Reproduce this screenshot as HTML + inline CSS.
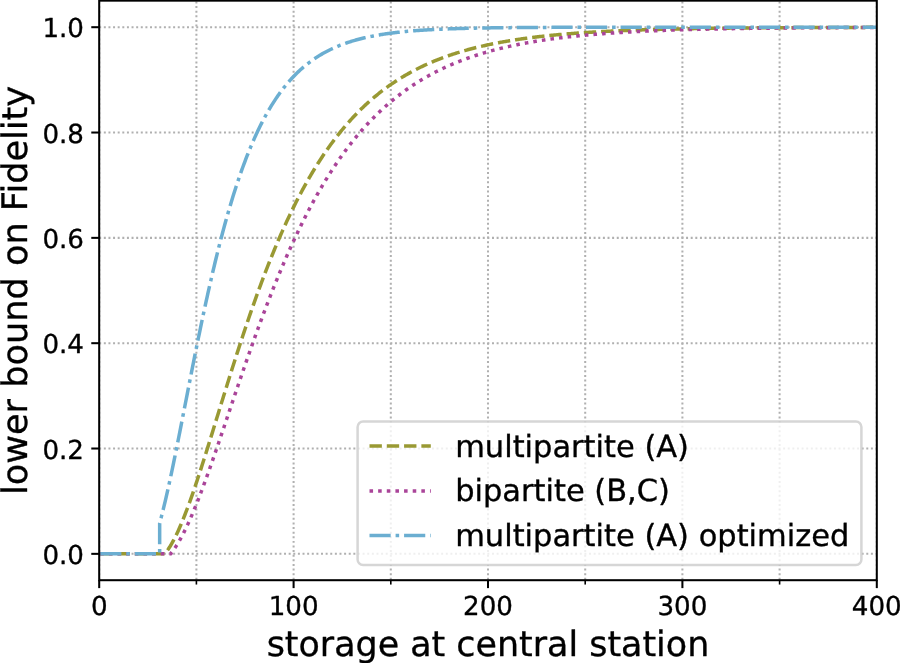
<!DOCTYPE html>
<html><head><meta charset="utf-8"><title>lower bound on Fidelity</title>
<style>html,body{margin:0;padding:0;background:#fff}svg{display:block}text{text-rendering:geometricPrecision;font-family:"DejaVu Sans","Liberation Sans",sans-serif;fill:#000;stroke:#000;stroke-width:0.35px;stroke-linejoin:round}</style></head><body>
<svg width="900" height="663" viewBox="0 0 900 663">
<rect width="900" height="663" fill="#fff"/>
<clipPath id="ax"><rect x="99.2" y="0.65" width="777.60" height="579.55"/></clipPath>
<g clip-path="url(#ax)" stroke="#b0b0b0" stroke-width="2.04" stroke-dasharray="1.99 2.62" fill="none">
<line x1="99.20" y1="579.75" x2="99.20" y2="0.65"/>
<line x1="293.60" y1="579.75" x2="293.60" y2="0.65"/>
<line x1="488.00" y1="579.75" x2="488.00" y2="0.65"/>
<line x1="682.40" y1="579.75" x2="682.40" y2="0.65"/>
<line x1="876.80" y1="579.75" x2="876.80" y2="0.65"/>
<line x1="196.40" y1="579.75" x2="196.40" y2="0.65"/>
<line x1="390.80" y1="579.75" x2="390.80" y2="0.65"/>
<line x1="585.20" y1="579.75" x2="585.20" y2="0.65"/>
<line x1="779.60" y1="579.75" x2="779.60" y2="0.65"/>
<line x1="99.2" y1="553.85" x2="876.8" y2="553.85" stroke-dasharray="1.99 2.631"/>
<line x1="99.2" y1="448.52" x2="876.8" y2="448.52" stroke-dasharray="1.99 2.631"/>
<line x1="99.2" y1="343.19" x2="876.8" y2="343.19" stroke-dasharray="1.99 2.631"/>
<line x1="99.2" y1="237.86" x2="876.8" y2="237.86" stroke-dasharray="1.99 2.631"/>
<line x1="99.2" y1="132.53" x2="876.8" y2="132.53" stroke-dasharray="1.99 2.631"/>
<line x1="99.2" y1="27.20" x2="876.8" y2="27.20" stroke-dasharray="1.99 2.631"/>
</g>
<g clip-path="url(#ax)" fill="none" stroke-width="3.50" stroke-linejoin="round" stroke-dashoffset="-1">
<polyline stroke="#999933" stroke-dasharray="12.38 4.92" points="99.20,553.85 164.71,553.85 165.30,553.17 166.27,551.96 167.24,550.66 168.21,549.27 169.18,547.81 170.16,546.27 171.13,544.65 172.10,542.96 173.07,541.20 174.04,539.37 175.02,537.47 175.99,535.51 176.96,533.48 177.93,531.39 178.90,529.25 179.88,527.04 180.85,524.78 181.82,522.47 182.79,520.11 183.76,517.70 184.74,515.24 185.71,512.73 186.68,510.18 187.65,507.59 188.62,504.96 189.60,502.29 190.57,499.58 191.54,496.84 192.51,494.07 193.48,491.26 194.46,488.42 195.43,485.56 196.40,482.67 197.37,479.75 198.34,476.81 199.32,473.85 200.29,470.86 201.26,467.86 202.23,464.83 203.20,461.79 204.18,458.74 205.15,455.67 206.12,452.58 207.09,449.49 208.06,446.38 209.04,443.26 210.01,440.14 210.98,437.01 211.95,433.87 212.92,430.73 213.90,427.58 214.87,424.42 215.84,421.27 216.81,418.11 217.78,414.96 218.76,411.80 219.73,408.65 220.70,405.49 221.67,402.34 222.64,399.20 223.62,396.05 224.59,392.92 225.56,389.78 226.53,386.66 227.50,383.54 228.48,380.43 229.45,377.32 230.42,374.23 231.39,371.15 232.36,368.07 233.34,365.01 234.31,361.95 235.28,358.91 236.25,355.88 237.22,352.86 238.20,349.86 239.17,346.87 240.14,343.89 241.11,340.92 242.08,337.97 243.06,335.04 244.03,332.12 245.00,329.21 245.97,326.32 246.94,323.45 247.92,320.59 248.89,317.75 249.86,314.93 250.83,312.12 251.80,309.33 252.78,306.56 253.75,303.81 254.72,301.07 255.69,298.35 256.66,295.65 257.64,292.97 258.61,290.30 259.58,287.66 260.55,285.03 261.52,282.42 262.50,279.83 263.47,277.26 264.44,274.71 265.41,272.18 266.38,269.67 267.36,267.17 268.33,264.70 269.30,262.24 270.27,259.81 271.24,257.39 272.22,254.99 273.19,252.62 274.16,250.26 275.13,247.92 276.10,245.60 277.08,243.30 278.05,241.02 279.02,238.76 279.99,236.52 280.96,234.29 281.94,232.09 282.91,229.91 283.88,227.74 284.85,225.60 285.82,223.47 286.80,221.36 287.77,219.27 288.74,217.20 289.71,215.15 290.68,213.12 291.66,211.11 292.63,209.12 293.60,207.14 294.57,205.18 295.54,203.24 296.52,201.32 297.49,199.42 298.46,197.54 299.43,195.67 300.40,193.82 301.38,191.99 302.35,190.18 303.32,188.38 304.29,186.61 305.26,184.85 306.24,183.10 307.21,181.38 308.18,179.67 309.15,177.98 310.12,176.30 311.10,174.65 312.07,173.00 313.04,171.38 314.01,169.77 314.98,168.18 315.96,166.60 316.93,165.05 317.90,163.50 318.87,161.97 319.84,160.46 320.82,158.97 321.79,157.48 322.76,156.02 323.73,154.57 324.70,153.13 325.68,151.71 326.65,150.31 327.62,148.92 328.59,147.54 329.56,146.18 330.54,144.83 331.51,143.50 332.48,142.18 333.45,140.88 334.42,139.58 335.40,138.31 336.37,137.04 337.34,135.79 338.31,134.56 339.28,133.33 340.26,132.12 341.23,130.93 342.20,129.74 343.17,128.57 344.14,127.41 345.12,126.27 346.09,125.13 347.06,124.01 348.03,122.90 349.00,121.81 349.98,120.72 350.95,119.65 351.92,118.59 352.89,117.54 353.86,116.50 354.84,115.47 355.81,114.46 356.78,113.45 357.75,112.46 358.72,111.48 359.70,110.51 360.67,109.55 361.64,108.60 362.61,107.66 363.58,106.73 364.56,105.81 365.53,104.90 366.50,104.01 367.47,103.12 368.44,102.24 369.42,101.37 370.39,100.51 371.36,99.67 372.33,98.83 373.30,98.00 374.28,97.18 375.25,96.36 376.22,95.56 377.19,94.77 378.16,93.99 379.14,93.21 380.11,92.44 381.08,91.69 382.05,90.94 383.02,90.20 384.00,89.46 384.97,88.74 385.94,88.02 386.91,87.32 387.88,86.62 388.86,85.93 389.83,85.24 390.80,84.57 391.77,83.90 392.74,83.24 393.72,82.58 394.69,81.94 395.66,81.30 396.63,80.67 397.60,80.05 398.58,79.43 399.55,78.82 400.52,78.22 401.49,77.62 402.46,77.03 403.44,76.45 404.41,75.88 405.38,75.31 406.35,74.74 407.32,74.19 408.30,73.64 409.27,73.10 410.24,72.56 411.21,72.03 412.18,71.50 413.16,70.99 414.13,70.47 415.10,69.97 416.07,69.47 417.04,68.97 418.02,68.48 418.99,68.00 419.96,67.52 420.93,67.05 421.90,66.58 422.88,66.12 423.85,65.66 424.82,65.21 425.79,64.77 426.76,64.33 427.74,63.89 428.71,63.46 429.68,63.04 430.65,62.62 431.62,62.20 432.60,61.79 433.57,61.38 434.54,60.98 435.51,60.59 436.48,60.19 437.46,59.81 438.43,59.42 439.40,59.05 440.37,58.67 441.34,58.30 442.32,57.94 443.29,57.58 444.26,57.22 445.23,56.87 446.20,56.52 447.18,56.17 448.15,55.83 449.12,55.50 450.09,55.16 451.06,54.84 452.04,54.51 453.01,54.19 453.98,53.87 454.95,53.56 455.92,53.25 456.90,52.94 457.87,52.64 458.84,52.34 459.81,52.04 460.78,51.75 461.76,51.46 462.73,51.18 463.70,50.90 464.67,50.62 465.64,50.34 466.62,50.07 467.59,49.80 468.56,49.53 469.53,49.27 470.50,49.01 471.48,48.75 472.45,48.50 473.42,48.25 474.39,48.00 475.36,47.76 476.34,47.52 477.31,47.28 478.28,47.04 479.25,46.81 480.22,46.58 481.20,46.35 482.17,46.12 483.14,45.90 484.11,45.68 485.08,45.46 486.06,45.25 487.03,45.03 488.00,44.82 488.97,44.62 489.94,44.41 490.92,44.21 491.89,44.01 492.86,43.81 493.83,43.61 494.80,43.42 495.78,43.23 496.75,43.04 497.72,42.85 498.69,42.67 499.66,42.49 500.64,42.31 501.61,42.13 502.58,41.95 503.55,41.78 504.52,41.61 505.50,41.44 506.47,41.27 507.44,41.10 508.41,40.94 509.38,40.78 510.36,40.62 511.33,40.46 512.30,40.30 513.27,40.15 514.24,39.99 515.22,39.84 516.19,39.69 517.16,39.55 518.13,39.40 519.10,39.26 520.08,39.12 521.05,38.98 522.02,38.84 522.99,38.70 523.96,38.56 524.94,38.43 525.91,38.30 526.88,38.17 527.85,38.04 528.82,37.91 529.80,37.78 530.77,37.66 531.74,37.53 532.71,37.41 533.68,37.29 534.66,37.17 535.63,37.06 536.60,36.94 537.57,36.82 538.54,36.71 539.52,36.60 540.49,36.49 541.46,36.38 542.43,36.27 543.40,36.16 544.38,36.06 545.35,35.95 546.32,35.85 547.29,35.75 548.26,35.65 549.24,35.55 550.21,35.45 551.18,35.35 552.15,35.25 553.12,35.16 554.10,35.07 555.07,34.97 556.04,34.88 557.01,34.79 557.98,34.70 558.96,34.61 559.93,34.52 560.90,34.44 561.87,34.35 562.84,34.27 563.82,34.19 564.79,34.10 565.76,34.02 566.73,33.94 567.70,33.86 568.68,33.78 569.65,33.70 570.62,33.63 571.59,33.55 572.56,33.48 573.54,33.40 574.51,33.33 575.48,33.26 576.45,33.19 577.42,33.12 578.40,33.05 579.37,32.98 580.34,32.91 581.31,32.84 582.28,32.77 583.26,32.71 584.23,32.64 585.20,32.58 586.17,32.52 587.14,32.45 588.12,32.39 589.09,32.33 590.06,32.27 591.03,32.21 592.00,32.15 592.98,32.09 593.95,32.03 594.92,31.98 595.89,31.92 596.86,31.86 597.84,31.81 598.81,31.76 599.78,31.70 600.75,31.65 601.72,31.60 602.70,31.54 603.67,31.49 604.64,31.44 605.61,31.39 606.58,31.34 607.56,31.29 608.53,31.25 609.50,31.20 610.47,31.15 611.44,31.10 612.42,31.06 613.39,31.01 614.36,30.97 615.33,30.92 616.30,30.88 617.28,30.84 618.25,30.79 619.22,30.75 620.19,30.71 621.16,30.67 622.14,30.63 623.11,30.59 624.08,30.55 625.05,30.51 626.02,30.47 627.00,30.43 627.97,30.39 628.94,30.35 629.91,30.31 630.88,30.28 631.86,30.24 632.83,30.21 633.80,30.17 634.77,30.14 635.74,30.10 636.72,30.07 637.69,30.03 638.66,30.00 639.63,29.97 640.60,29.93 641.58,29.90 642.55,29.87 643.52,29.84 644.49,29.81 645.46,29.78 646.44,29.75 647.41,29.72 648.38,29.69 649.35,29.66 650.32,29.63 651.30,29.60 652.27,29.57 653.24,29.54 654.21,29.51 655.18,29.49 656.16,29.46 657.13,29.43 658.10,29.41 659.07,29.38 660.04,29.36 661.02,29.33 661.99,29.30 662.96,29.28 663.93,29.26 664.90,29.23 665.88,29.21 666.85,29.18 667.82,29.16 668.79,29.14 669.76,29.11 670.74,29.09 671.71,29.07 672.68,29.05 673.65,29.03 674.62,29.00 675.60,28.98 676.57,28.96 677.54,28.94 678.51,28.92 679.48,28.90 680.46,28.88 681.43,28.86 682.40,28.84 683.37,28.82 684.34,28.80 685.32,28.78 686.29,28.76 687.26,28.75 688.23,28.73 689.20,28.71 690.18,28.69 691.15,28.67 692.12,28.66 693.09,28.64 694.06,28.62 695.04,28.61 696.01,28.59 696.98,28.57 697.95,28.56 698.92,28.54 699.90,28.52 700.87,28.51 701.84,28.49 702.81,28.48 703.78,28.46 704.76,28.45 705.73,28.43 706.70,28.42 707.67,28.40 708.64,28.39 709.62,28.38 710.59,28.36 711.56,28.35 712.53,28.33 713.50,28.32 714.48,28.31 715.45,28.30 716.42,28.28 717.39,28.27 718.36,28.26 719.34,28.24 720.31,28.23 721.28,28.22 722.25,28.21 723.22,28.20 724.20,28.18 725.17,28.17 726.14,28.16 727.11,28.15 728.08,28.14 729.06,28.13 730.03,28.12 731.00,28.11 731.97,28.09 732.94,28.08 733.92,28.07 734.89,28.06 735.86,28.05 736.83,28.04 737.80,28.03 738.78,28.02 739.75,28.01 740.72,28.00 741.69,27.99 742.66,27.99 743.64,27.98 744.61,27.97 745.58,27.96 746.55,27.95 747.52,27.94 748.50,27.93 749.47,27.92 750.44,27.91 751.41,27.91 752.38,27.90 753.36,27.89 754.33,27.88 755.30,27.87 756.27,27.86 757.24,27.86 758.22,27.85 759.19,27.84 760.16,27.83 761.13,27.83 762.10,27.82 763.08,27.81 764.05,27.80 765.02,27.80 765.99,27.79 766.96,27.78 767.94,27.78 768.91,27.77 769.88,27.76 770.85,27.76 771.82,27.75 772.80,27.74 773.77,27.74 774.74,27.73 775.71,27.72 776.68,27.72 777.66,27.71 778.63,27.71 779.60,27.70 780.57,27.69 781.54,27.69 782.52,27.68 783.49,27.68 784.46,27.67 785.43,27.67 786.40,27.66 787.38,27.65 788.35,27.65 789.32,27.64 790.29,27.64 791.26,27.63 792.24,27.63 793.21,27.62 794.18,27.62 795.15,27.61 796.12,27.61 797.10,27.60 798.07,27.60 799.04,27.59 800.01,27.59 800.98,27.58 801.96,27.58 802.93,27.58 803.90,27.57 804.87,27.57 805.84,27.56 806.82,27.56 807.79,27.55 808.76,27.55 809.73,27.55 810.70,27.54 811.68,27.54 812.65,27.53 813.62,27.53 814.59,27.53 815.56,27.52 816.54,27.52 817.51,27.51 818.48,27.51 819.45,27.51 820.42,27.50 821.40,27.50 822.37,27.50 823.34,27.49 824.31,27.49 825.28,27.49 826.26,27.48 827.23,27.48 828.20,27.48 829.17,27.47 830.14,27.47 831.12,27.47 832.09,27.46 833.06,27.46 834.03,27.46 835.00,27.45 835.98,27.45 836.95,27.45 837.92,27.45 838.89,27.44 839.86,27.44 840.84,27.44 841.81,27.43 842.78,27.43 843.75,27.43 844.72,27.43 845.70,27.42 846.67,27.42 847.64,27.42 848.61,27.42 849.58,27.41 850.56,27.41 851.53,27.41 852.50,27.41 853.47,27.40 854.44,27.40 855.42,27.40 856.39,27.40 857.36,27.39 858.33,27.39 859.30,27.39 860.28,27.39 861.25,27.38 862.22,27.38 863.19,27.38 864.16,27.38 865.14,27.38 866.11,27.37 867.08,27.37 868.05,27.37 869.02,27.37 870.00,27.37 870.97,27.36 871.94,27.36 872.91,27.36 873.88,27.36 874.86,27.36 875.83,27.35 876.80,27.35"/>
<polyline stroke="#AA4499" stroke-dasharray="3.56 5.09" points="99.20,553.85 170.93,553.85 171.13,553.01 172.10,551.81 173.07,550.54 174.04,549.20 175.02,547.81 175.99,546.35 176.96,544.83 177.93,543.26 178.90,541.62 179.88,539.94 180.85,538.20 181.82,536.40 182.79,534.56 183.76,532.66 184.74,530.72 185.71,528.73 186.68,526.70 187.65,524.62 188.62,522.50 189.60,520.34 190.57,518.14 191.54,515.90 192.51,513.63 193.48,511.32 194.46,508.97 195.43,506.59 196.40,504.18 197.37,501.74 198.34,499.27 199.32,496.76 200.29,494.24 201.26,491.68 202.23,489.11 203.20,486.50 204.18,483.88 205.15,481.23 206.12,478.57 207.09,475.88 208.06,473.17 209.04,470.45 210.01,467.71 210.98,464.96 211.95,462.19 212.92,459.41 213.90,456.62 214.87,453.81 215.84,450.99 216.81,448.17 217.78,445.33 218.76,442.49 219.73,439.64 220.70,436.78 221.67,433.92 222.64,431.05 223.62,428.18 224.59,425.30 225.56,422.42 226.53,419.54 227.50,416.66 228.48,413.78 229.45,410.89 230.42,408.01 231.39,405.13 232.36,402.25 233.34,399.37 234.31,396.50 235.28,393.63 236.25,390.76 237.22,387.90 238.20,385.04 239.17,382.19 240.14,379.34 241.11,376.50 242.08,373.67 243.06,370.85 244.03,368.03 245.00,365.22 245.97,362.42 246.94,359.63 247.92,356.84 248.89,354.07 249.86,351.31 250.83,348.55 251.80,345.81 252.78,343.08 253.75,340.36 254.72,337.65 255.69,334.96 256.66,332.27 257.64,329.60 258.61,326.94 259.58,324.29 260.55,321.66 261.52,319.04 262.50,316.43 263.47,313.84 264.44,311.26 265.41,308.69 266.38,306.14 267.36,303.61 268.33,301.08 269.30,298.58 270.27,296.08 271.24,293.60 272.22,291.14 273.19,288.69 274.16,286.26 275.13,283.85 276.10,281.44 277.08,279.06 278.05,276.69 279.02,274.33 279.99,271.99 280.96,269.67 281.94,267.37 282.91,265.07 283.88,262.80 284.85,260.54 285.82,258.30 286.80,256.07 287.77,253.86 288.74,251.67 289.71,249.49 290.68,247.33 291.66,245.18 292.63,243.05 293.60,240.94 294.57,238.84 295.54,236.76 296.52,234.70 297.49,232.65 298.46,230.62 299.43,228.60 300.40,226.60 301.38,224.62 302.35,222.65 303.32,220.70 304.29,218.77 305.26,216.85 306.24,214.94 307.21,213.05 308.18,211.18 309.15,209.33 310.12,207.49 311.10,205.66 312.07,203.85 313.04,202.06 314.01,200.28 314.98,198.52 315.96,196.77 316.93,195.04 317.90,193.32 318.87,191.62 319.84,189.93 320.82,188.26 321.79,186.61 322.76,184.96 323.73,183.34 324.70,181.73 325.68,180.13 326.65,178.55 327.62,176.98 328.59,175.42 329.56,173.88 330.54,172.36 331.51,170.85 332.48,169.35 333.45,167.86 334.42,166.39 335.40,164.94 336.37,163.50 337.34,162.07 338.31,160.65 339.28,159.25 340.26,157.86 341.23,156.49 342.20,155.13 343.17,153.78 344.14,152.44 345.12,151.12 346.09,149.81 347.06,148.51 348.03,147.23 349.00,145.95 349.98,144.69 350.95,143.45 351.92,142.21 352.89,140.99 353.86,139.78 354.84,138.58 355.81,137.39 356.78,136.21 357.75,135.05 358.72,133.90 359.70,132.76 360.67,131.63 361.64,130.51 362.61,129.40 363.58,128.31 364.56,127.22 365.53,126.15 366.50,125.08 367.47,124.03 368.44,122.99 369.42,121.96 370.39,120.94 371.36,119.93 372.33,118.93 373.30,117.94 374.28,116.96 375.25,115.99 376.22,115.03 377.19,114.08 378.16,113.14 379.14,112.21 380.11,111.29 381.08,110.37 382.05,109.47 383.02,108.58 384.00,107.70 384.97,106.82 385.94,105.96 386.91,105.10 387.88,104.25 388.86,103.41 389.83,102.58 390.80,101.76 391.77,100.95 392.74,100.15 393.72,99.35 394.69,98.56 395.66,97.78 396.63,97.01 397.60,96.25 398.58,95.50 399.55,94.75 400.52,94.01 401.49,93.28 402.46,92.56 403.44,91.84 404.41,91.13 405.38,90.43 406.35,89.74 407.32,89.05 408.30,88.37 409.27,87.70 410.24,87.04 411.21,86.38 412.18,85.73 413.16,85.09 414.13,84.45 415.10,83.82 416.07,83.20 417.04,82.58 418.02,81.98 418.99,81.37 419.96,80.78 420.93,80.19 421.90,79.60 422.88,79.02 423.85,78.45 424.82,77.89 425.79,77.33 426.76,76.78 427.74,76.23 428.71,75.69 429.68,75.15 430.65,74.62 431.62,74.10 432.60,73.58 433.57,73.07 434.54,72.56 435.51,72.06 436.48,71.56 437.46,71.07 438.43,70.59 439.40,70.11 440.37,69.63 441.34,69.16 442.32,68.70 443.29,68.24 444.26,67.78 445.23,67.33 446.20,66.89 447.18,66.45 448.15,66.02 449.12,65.58 450.09,65.16 451.06,64.74 452.04,64.32 453.01,63.91 453.98,63.50 454.95,63.10 455.92,62.70 456.90,62.31 457.87,61.92 458.84,61.53 459.81,61.15 460.78,60.77 461.76,60.40 462.73,60.03 463.70,59.67 464.67,59.31 465.64,58.95 466.62,58.60 467.59,58.25 468.56,57.90 469.53,57.56 470.50,57.22 471.48,56.89 472.45,56.56 473.42,56.23 474.39,55.91 475.36,55.59 476.34,55.27 477.31,54.96 478.28,54.65 479.25,54.34 480.22,54.04 481.20,53.74 482.17,53.45 483.14,53.15 484.11,52.87 485.08,52.58 486.06,52.30 487.03,52.02 488.00,51.74 488.97,51.47 489.94,51.20 490.92,50.93 491.89,50.66 492.86,50.40 493.83,50.14 494.80,49.89 495.78,49.63 496.75,49.38 497.72,49.14 498.69,48.89 499.66,48.65 500.64,48.41 501.61,48.17 502.58,47.94 503.55,47.71 504.52,47.48 505.50,47.25 506.47,47.03 507.44,46.81 508.41,46.59 509.38,46.37 510.36,46.16 511.33,45.94 512.30,45.74 513.27,45.53 514.24,45.32 515.22,45.12 516.19,44.92 517.16,44.72 518.13,44.53 519.10,44.33 520.08,44.14 521.05,43.95 522.02,43.76 522.99,43.58 523.96,43.40 524.94,43.22 525.91,43.04 526.88,42.86 527.85,42.68 528.82,42.51 529.80,42.34 530.77,42.17 531.74,42.00 532.71,41.84 533.68,41.67 534.66,41.51 535.63,41.35 536.60,41.19 537.57,41.04 538.54,40.88 539.52,40.73 540.49,40.58 541.46,40.43 542.43,40.28 543.40,40.13 544.38,39.99 545.35,39.85 546.32,39.70 547.29,39.56 548.26,39.43 549.24,39.29 550.21,39.15 551.18,39.02 552.15,38.89 553.12,38.76 554.10,38.63 555.07,38.50 556.04,38.37 557.01,38.25 557.98,38.12 558.96,38.00 559.93,37.88 560.90,37.76 561.87,37.64 562.84,37.53 563.82,37.41 564.79,37.30 565.76,37.18 566.73,37.07 567.70,36.96 568.68,36.85 569.65,36.74 570.62,36.64 571.59,36.53 572.56,36.42 573.54,36.32 574.51,36.22 575.48,36.12 576.45,36.02 577.42,35.92 578.40,35.82 579.37,35.73 580.34,35.63 581.31,35.54 582.28,35.44 583.26,35.35 584.23,35.26 585.20,35.17 586.17,35.08 587.14,34.99 588.12,34.90 589.09,34.82 590.06,34.73 591.03,34.65 592.00,34.56 592.98,34.48 593.95,34.40 594.92,34.32 595.89,34.24 596.86,34.16 597.84,34.08 598.81,34.00 599.78,33.93 600.75,33.85 601.72,33.78 602.70,33.70 603.67,33.63 604.64,33.56 605.61,33.49 606.58,33.42 607.56,33.35 608.53,33.28 609.50,33.21 610.47,33.14 611.44,33.08 612.42,33.01 613.39,32.95 614.36,32.88 615.33,32.82 616.30,32.75 617.28,32.69 618.25,32.63 619.22,32.57 620.19,32.51 621.16,32.45 622.14,32.39 623.11,32.33 624.08,32.28 625.05,32.22 626.02,32.16 627.00,32.11 627.97,32.05 628.94,32.00 629.91,31.94 630.88,31.89 631.86,31.84 632.83,31.79 633.80,31.73 634.77,31.68 635.74,31.63 636.72,31.58 637.69,31.53 638.66,31.49 639.63,31.44 640.60,31.39 641.58,31.34 642.55,31.30 643.52,31.25 644.49,31.20 645.46,31.16 646.44,31.12 647.41,31.07 648.38,31.03 649.35,30.98 650.32,30.94 651.30,30.90 652.27,30.86 653.24,30.82 654.21,30.78 655.18,30.74 656.16,30.70 657.13,30.66 658.10,30.62 659.07,30.58 660.04,30.54 661.02,30.51 661.99,30.47 662.96,30.43 663.93,30.40 664.90,30.36 665.88,30.32 666.85,30.29 667.82,30.25 668.79,30.22 669.76,30.19 670.74,30.15 671.71,30.12 672.68,30.09 673.65,30.05 674.62,30.02 675.60,29.99 676.57,29.96 677.54,29.93 678.51,29.90 679.48,29.87 680.46,29.84 681.43,29.81 682.40,29.78 683.37,29.75 684.34,29.72 685.32,29.69 686.29,29.67 687.26,29.64 688.23,29.61 689.20,29.58 690.18,29.56 691.15,29.53 692.12,29.50 693.09,29.48 694.06,29.45 695.04,29.43 696.01,29.40 696.98,29.38 697.95,29.35 698.92,29.33 699.90,29.30 700.87,29.28 701.84,29.26 702.81,29.23 703.78,29.21 704.76,29.19 705.73,29.17 706.70,29.14 707.67,29.12 708.64,29.10 709.62,29.08 710.59,29.06 711.56,29.04 712.53,29.02 713.50,29.00 714.48,28.98 715.45,28.96 716.42,28.94 717.39,28.92 718.36,28.90 719.34,28.88 720.31,28.86 721.28,28.84 722.25,28.82 723.22,28.81 724.20,28.79 725.17,28.77 726.14,28.75 727.11,28.73 728.08,28.72 729.06,28.70 730.03,28.68 731.00,28.67 731.97,28.65 732.94,28.63 733.92,28.62 734.89,28.60 735.86,28.59 736.83,28.57 737.80,28.56 738.78,28.54 739.75,28.53 740.72,28.51 741.69,28.50 742.66,28.48 743.64,28.47 744.61,28.45 745.58,28.44 746.55,28.42 747.52,28.41 748.50,28.40 749.47,28.38 750.44,28.37 751.41,28.36 752.38,28.34 753.36,28.33 754.33,28.32 755.30,28.31 756.27,28.29 757.24,28.28 758.22,28.27 759.19,28.26 760.16,28.25 761.13,28.23 762.10,28.22 763.08,28.21 764.05,28.20 765.02,28.19 765.99,28.18 766.96,28.17 767.94,28.16 768.91,28.14 769.88,28.13 770.85,28.12 771.82,28.11 772.80,28.10 773.77,28.09 774.74,28.08 775.71,28.07 776.68,28.06 777.66,28.05 778.63,28.04 779.60,28.03 780.57,28.02 781.54,28.02 782.52,28.01 783.49,28.00 784.46,27.99 785.43,27.98 786.40,27.97 787.38,27.96 788.35,27.95 789.32,27.95 790.29,27.94 791.26,27.93 792.24,27.92 793.21,27.91 794.18,27.90 795.15,27.90 796.12,27.89 797.10,27.88 798.07,27.87 799.04,27.87 800.01,27.86 800.98,27.85 801.96,27.84 802.93,27.84 803.90,27.83 804.87,27.82 805.84,27.81 806.82,27.81 807.79,27.80 808.76,27.79 809.73,27.79 810.70,27.78 811.68,27.77 812.65,27.77 813.62,27.76 814.59,27.76 815.56,27.75 816.54,27.74 817.51,27.74 818.48,27.73 819.45,27.73 820.42,27.72 821.40,27.71 822.37,27.71 823.34,27.70 824.31,27.70 825.28,27.69 826.26,27.69 827.23,27.68 828.20,27.67 829.17,27.67 830.14,27.66 831.12,27.66 832.09,27.65 833.06,27.65 834.03,27.64 835.00,27.64 835.98,27.63 836.95,27.63 837.92,27.62 838.89,27.62 839.86,27.61 840.84,27.61 841.81,27.60 842.78,27.60 843.75,27.60 844.72,27.59 845.70,27.59 846.67,27.58 847.64,27.58 848.61,27.57 849.58,27.57 850.56,27.57 851.53,27.56 852.50,27.56 853.47,27.55 854.44,27.55 855.42,27.55 856.39,27.54 857.36,27.54 858.33,27.53 859.30,27.53 860.28,27.53 861.25,27.52 862.22,27.52 863.19,27.52 864.16,27.51 865.14,27.51 866.11,27.51 867.08,27.50 868.05,27.50 869.02,27.50 870.00,27.49 870.97,27.49 871.94,27.49 872.91,27.48 873.88,27.48 874.86,27.48 875.83,27.47 876.80,27.47"/>
<polyline stroke="#6BAED1" stroke-dasharray="21.19 4.92 3.56 4.92" points="99.20,553.85 159.66,553.85 159.66,523.13 160.44,520.28 161.41,516.61 162.38,512.83 163.35,508.94 164.32,504.95 165.30,500.86 166.27,496.68 167.24,492.41 168.21,488.06 169.18,483.64 170.16,479.16 171.13,474.60 172.10,469.99 173.07,465.33 174.04,460.61 175.02,455.85 175.99,451.06 176.96,446.22 177.93,441.36 178.90,436.47 179.88,431.55 180.85,426.62 181.82,421.67 182.79,416.71 183.76,411.74 184.74,406.77 185.71,401.79 186.68,396.82 187.65,391.85 188.62,386.89 189.60,381.94 190.57,377.00 191.54,372.08 192.51,367.18 193.48,362.29 194.46,357.43 195.43,352.59 196.40,347.78 197.37,343.00 198.34,338.24 199.32,333.52 200.29,328.83 201.26,324.18 202.23,319.56 203.20,314.98 204.18,310.43 205.15,305.93 206.12,301.47 207.09,297.05 208.06,292.67 209.04,288.33 210.01,284.04 210.98,279.80 211.95,275.60 212.92,271.44 213.90,267.33 214.87,263.27 215.84,259.26 216.81,255.30 217.78,251.38 218.76,247.51 219.73,243.69 220.70,239.92 221.67,236.20 222.64,232.52 223.62,228.90 224.59,225.33 225.56,221.80 226.53,218.32 227.50,214.89 228.48,211.51 229.45,208.18 230.42,204.90 231.39,201.67 232.36,198.48 233.34,195.34 234.31,192.25 235.28,189.21 236.25,186.21 237.22,183.26 238.20,180.35 239.17,177.49 240.14,174.68 241.11,171.91 242.08,169.19 243.06,166.51 244.03,163.87 245.00,161.28 245.97,158.73 246.94,156.23 247.92,153.76 248.89,151.34 249.86,148.96 250.83,146.61 251.80,144.31 252.78,142.05 253.75,139.83 254.72,137.64 255.69,135.50 256.66,133.39 257.64,131.32 258.61,129.29 259.58,127.29 260.55,125.33 261.52,123.40 262.50,121.51 263.47,119.65 264.44,117.83 265.41,116.03 266.38,114.28 267.36,112.55 268.33,110.86 269.30,109.19 270.27,107.56 271.24,105.96 272.22,104.39 273.19,102.85 274.16,101.33 275.13,99.85 276.10,98.39 277.08,96.96 278.05,95.56 279.02,94.18 279.99,92.83 280.96,91.51 281.94,90.21 282.91,88.94 283.88,87.69 284.85,86.46 285.82,85.26 286.80,84.08 287.77,82.93 288.74,81.80 289.71,80.68 290.68,79.60 291.66,78.53 292.63,77.48 293.60,76.45 294.57,75.45 295.54,74.46 296.52,73.49 297.49,72.55 298.46,71.62 299.43,70.71 300.40,69.81 301.38,68.94 302.35,68.08 303.32,67.24 304.29,66.42 305.26,65.61 306.24,64.82 307.21,64.04 308.18,63.28 309.15,62.54 310.12,61.81 311.10,61.09 312.07,60.39 313.04,59.71 314.01,59.03 314.98,58.38 315.96,57.73 316.93,57.10 317.90,56.48 318.87,55.87 319.84,55.28 320.82,54.69 321.79,54.12 322.76,53.56 323.73,53.01 324.70,52.48 325.68,51.95 326.65,51.44 327.62,50.93 328.59,50.44 329.56,49.95 330.54,49.48 331.51,49.02 332.48,48.56 333.45,48.12 334.42,47.68 335.40,47.25 336.37,46.83 337.34,46.42 338.31,46.02 339.28,45.63 340.26,45.24 341.23,44.87 342.20,44.50 343.17,44.13 344.14,43.78 345.12,43.43 346.09,43.09 347.06,42.76 348.03,42.43 349.00,42.11 349.98,41.80 350.95,41.50 351.92,41.20 352.89,40.90 353.86,40.62 354.84,40.33 355.81,40.06 356.78,39.79 357.75,39.52 358.72,39.27 359.70,39.01 360.67,38.76 361.64,38.52 362.61,38.28 363.58,38.05 364.56,37.82 365.53,37.60 366.50,37.38 367.47,37.17 368.44,36.96 369.42,36.75 370.39,36.55 371.36,36.35 372.33,36.16 373.30,35.97 374.28,35.79 375.25,35.61 376.22,35.43 377.19,35.26 378.16,35.09 379.14,34.92 380.11,34.76 381.08,34.60 382.05,34.44 383.02,34.29 384.00,34.14 384.97,33.99 385.94,33.85 386.91,33.71 387.88,33.57 388.86,33.44 389.83,33.31 390.80,33.18 391.77,33.05 392.74,32.93 393.72,32.81 394.69,32.69 395.66,32.57 396.63,32.46 397.60,32.35 398.58,32.24 399.55,32.14 400.52,32.03 401.49,31.93 402.46,31.83 403.44,31.73 404.41,31.64 405.38,31.54 406.35,31.45 407.32,31.36 408.30,31.27 409.27,31.19 410.24,31.10 411.21,31.02 412.18,30.94 413.16,30.86 414.13,30.78 415.10,30.71 416.07,30.63 417.04,30.56 418.02,30.49 418.99,30.42 419.96,30.35 420.93,30.29 421.90,30.22 422.88,30.16 423.85,30.09 424.82,30.03 425.79,29.97 426.76,29.91 427.74,29.86 428.71,29.80 429.68,29.75 430.65,29.69 431.62,29.64 432.60,29.59 433.57,29.54 434.54,29.49 435.51,29.44 436.48,29.39 437.46,29.35 438.43,29.30 439.40,29.26 440.37,29.21 441.34,29.17 442.32,29.13 443.29,29.09 444.26,29.05 445.23,29.01 446.20,28.97 447.18,28.93 448.15,28.90 449.12,28.86 450.09,28.82 451.06,28.79 452.04,28.76 453.01,28.72 453.98,28.69 454.95,28.66 455.92,28.63 456.90,28.60 457.87,28.57 458.84,28.54 459.81,28.51 460.78,28.48 461.76,28.46 462.73,28.43 463.70,28.40 464.67,28.38 465.64,28.35 466.62,28.33 467.59,28.31 468.56,28.28 469.53,28.26 470.50,28.24 471.48,28.22 472.45,28.19 473.42,28.17 474.39,28.15 475.36,28.13 476.34,28.11 477.31,28.09 478.28,28.07 479.25,28.06 480.22,28.04 481.20,28.02 482.17,28.00 483.14,27.99 484.11,27.97 485.08,27.95 486.06,27.94 487.03,27.92 488.00,27.91 488.97,27.89 489.94,27.88 490.92,27.86 491.89,27.85 492.86,27.83 493.83,27.82 494.80,27.81 495.78,27.79 496.75,27.78 497.72,27.77 498.69,27.76 499.66,27.75 500.64,27.73 501.61,27.72 502.58,27.71 503.55,27.70 504.52,27.69 505.50,27.68 506.47,27.67 507.44,27.66 508.41,27.65 509.38,27.64 510.36,27.63 511.33,27.62 512.30,27.61 513.27,27.60 514.24,27.60 515.22,27.59 516.19,27.58 517.16,27.57 518.13,27.56 519.10,27.56 520.08,27.55 521.05,27.54 522.02,27.53 522.99,27.53 523.96,27.52 524.94,27.51 525.91,27.51 526.88,27.50 527.85,27.49 528.82,27.49 529.80,27.48 530.77,27.48 531.74,27.47 532.71,27.46 533.68,27.46 534.66,27.45 535.63,27.45 536.60,27.44 537.57,27.44 538.54,27.43 539.52,27.43 540.49,27.42 541.46,27.42 542.43,27.41 543.40,27.41 544.38,27.40 545.35,27.40 546.32,27.40 547.29,27.39 548.26,27.39 549.24,27.38 550.21,27.38 551.18,27.38 552.15,27.37 553.12,27.37 554.10,27.36 555.07,27.36 556.04,27.36 557.01,27.35 557.98,27.35 558.96,27.35 559.93,27.34 560.90,27.34 561.87,27.34 562.84,27.34 563.82,27.33 564.79,27.33 565.76,27.33 566.73,27.32 567.70,27.32 568.68,27.32 569.65,27.32 570.62,27.31 571.59,27.31 572.56,27.31 573.54,27.31 574.51,27.30 575.48,27.30 576.45,27.30 577.42,27.30 578.40,27.30 579.37,27.29 580.34,27.29 581.31,27.29 582.28,27.29 583.26,27.29 584.23,27.28 585.20,27.28 586.17,27.28 587.14,27.28 588.12,27.28 589.09,27.28 590.06,27.27 591.03,27.27 592.00,27.27 592.98,27.27 593.95,27.27 594.92,27.27 595.89,27.27 596.86,27.26 597.84,27.26 598.81,27.26 599.78,27.26 600.75,27.26 601.72,27.26 602.70,27.26 603.67,27.26 604.64,27.25 605.61,27.25 606.58,27.25 607.56,27.25 608.53,27.25 609.50,27.25 610.47,27.25 611.44,27.25 612.42,27.25 613.39,27.24 614.36,27.24 615.33,27.24 616.30,27.24 617.28,27.24 618.25,27.24 619.22,27.24 620.19,27.24 621.16,27.24 622.14,27.24 623.11,27.24 624.08,27.24 625.05,27.23 626.02,27.23 627.00,27.23 627.97,27.23 628.94,27.23 629.91,27.23 630.88,27.23 631.86,27.23 632.83,27.23 633.80,27.23 634.77,27.23 635.74,27.23 636.72,27.23 637.69,27.23 638.66,27.23 639.63,27.23 640.60,27.22 641.58,27.22 642.55,27.22 643.52,27.22 644.49,27.22 645.46,27.22 646.44,27.22 647.41,27.22 648.38,27.22 649.35,27.22 650.32,27.22 651.30,27.22 652.27,27.22 653.24,27.22 654.21,27.22 655.18,27.22 656.16,27.22 657.13,27.22 658.10,27.22 659.07,27.22 660.04,27.22 661.02,27.22 661.99,27.22 662.96,27.21 663.93,27.21 664.90,27.21 665.88,27.21 666.85,27.21 667.82,27.21 668.79,27.21 669.76,27.21 670.74,27.21 671.71,27.21 672.68,27.21 673.65,27.21 674.62,27.21 675.60,27.21 676.57,27.21 677.54,27.21 678.51,27.21 679.48,27.21 680.46,27.21 681.43,27.21 682.40,27.21 683.37,27.21 684.34,27.21 685.32,27.21 686.29,27.21 687.26,27.21 688.23,27.21 689.20,27.21 690.18,27.21 691.15,27.21 692.12,27.21 693.09,27.21 694.06,27.21 695.04,27.21 696.01,27.21 696.98,27.21 697.95,27.21 698.92,27.21 699.90,27.21 700.87,27.21 701.84,27.21 702.81,27.21 703.78,27.21 704.76,27.21 705.73,27.21 706.70,27.21 707.67,27.21 708.64,27.21 709.62,27.21 710.59,27.21 711.56,27.21 712.53,27.21 713.50,27.20 714.48,27.20 715.45,27.20 716.42,27.20 717.39,27.20 718.36,27.20 719.34,27.20 720.31,27.20 721.28,27.20 722.25,27.20 723.22,27.20 724.20,27.20 725.17,27.20 726.14,27.20 727.11,27.20 728.08,27.20 729.06,27.20 730.03,27.20 731.00,27.20 731.97,27.20 732.94,27.20 733.92,27.20 734.89,27.20 735.86,27.20 736.83,27.20 737.80,27.20 738.78,27.20 739.75,27.20 740.72,27.20 741.69,27.20 742.66,27.20 743.64,27.20 744.61,27.20 745.58,27.20 746.55,27.20 747.52,27.20 748.50,27.20 749.47,27.20 750.44,27.20 751.41,27.20 752.38,27.20 753.36,27.20 754.33,27.20 755.30,27.20 756.27,27.20 757.24,27.20 758.22,27.20 759.19,27.20 760.16,27.20 761.13,27.20 762.10,27.20 763.08,27.20 764.05,27.20 765.02,27.20 765.99,27.20 766.96,27.20 767.94,27.20 768.91,27.20 769.88,27.20 770.85,27.20 771.82,27.20 772.80,27.20 773.77,27.20 774.74,27.20 775.71,27.20 776.68,27.20 777.66,27.20 778.63,27.20 779.60,27.20 780.57,27.20 781.54,27.20 782.52,27.20 783.49,27.20 784.46,27.20 785.43,27.20 786.40,27.20 787.38,27.20 788.35,27.20 789.32,27.20 790.29,27.20 791.26,27.20 792.24,27.20 793.21,27.20 794.18,27.20 795.15,27.20 796.12,27.20 797.10,27.20 798.07,27.20 799.04,27.20 800.01,27.20 800.98,27.20 801.96,27.20 802.93,27.20 803.90,27.20 804.87,27.20 805.84,27.20 806.82,27.20 807.79,27.20 808.76,27.20 809.73,27.20 810.70,27.20 811.68,27.20 812.65,27.20 813.62,27.20 814.59,27.20 815.56,27.20 816.54,27.20 817.51,27.20 818.48,27.20 819.45,27.20 820.42,27.20 821.40,27.20 822.37,27.20 823.34,27.20 824.31,27.20 825.28,27.20 826.26,27.20 827.23,27.20 828.20,27.20 829.17,27.20 830.14,27.20 831.12,27.20 832.09,27.20 833.06,27.20 834.03,27.20 835.00,27.20 835.98,27.20 836.95,27.20 837.92,27.20 838.89,27.20 839.86,27.20 840.84,27.20 841.81,27.20 842.78,27.20 843.75,27.20 844.72,27.20 845.70,27.20 846.67,27.20 847.64,27.20 848.61,27.20 849.58,27.20 850.56,27.20 851.53,27.20 852.50,27.20 853.47,27.20 854.44,27.20 855.42,27.20 856.39,27.20 857.36,27.20 858.33,27.20 859.30,27.20 860.28,27.20 861.25,27.20 862.22,27.20 863.19,27.20 864.16,27.20 865.14,27.20 866.11,27.20 867.08,27.20 868.05,27.20 869.02,27.20 870.00,27.20 870.97,27.20 871.94,27.20 872.91,27.20 873.88,27.20 874.86,27.20 875.83,27.20 876.80,27.20"/>
</g>
<g stroke="#000" stroke-width="2.04">
<line x1="99.20" y1="580.2" x2="99.20" y2="588.12"/>
<line x1="293.60" y1="580.2" x2="293.60" y2="588.12"/>
<line x1="488.00" y1="580.2" x2="488.00" y2="588.12"/>
<line x1="682.40" y1="580.2" x2="682.40" y2="588.12"/>
<line x1="876.80" y1="580.2" x2="876.80" y2="588.12"/>
<line x1="99.2" y1="553.85" x2="91.28" y2="553.85"/>
<line x1="99.2" y1="448.52" x2="91.28" y2="448.52"/>
<line x1="99.2" y1="343.19" x2="91.28" y2="343.19"/>
<line x1="99.2" y1="237.86" x2="91.28" y2="237.86"/>
<line x1="99.2" y1="132.53" x2="91.28" y2="132.53"/>
<line x1="99.2" y1="27.20" x2="91.28" y2="27.20"/>
</g>
<g stroke="#000" stroke-width="1.61">
<line x1="196.40" y1="580.2" x2="196.40" y2="584.55"/>
<line x1="390.80" y1="580.2" x2="390.80" y2="584.55"/>
<line x1="585.20" y1="580.2" x2="585.20" y2="584.55"/>
<line x1="779.60" y1="580.2" x2="779.60" y2="584.55"/>
</g>
<rect x="99.2" y="0.65" width="777.60" height="579.55" fill="none" stroke="#000" stroke-width="2.04" stroke-linejoin="miter"/>
<g font-size="26.13" text-anchor="middle">
<text x="99.20" y="614.8">0</text>
<text x="293.60" y="614.8">100</text>
<text x="488.00" y="614.8">200</text>
<text x="682.40" y="614.8">300</text>
<text x="876.80" y="614.8">400</text>
</g>
<g font-size="26.13" text-anchor="end">
<text x="84.0" y="563.80">0.0</text>
<text x="84.0" y="458.52">0.2</text>
<text x="84.0" y="353.29">0.4</text>
<text x="84.0" y="248.21">0.6</text>
<text x="84.0" y="142.93">0.8</text>
<text x="84.0" y="37.20">1.0</text>
</g>
<text x="487.95" y="656.2" font-size="34.88" text-anchor="middle">storage at central station</text>
<text transform="translate(26.6 290.40) rotate(-90)" font-size="35.12" text-anchor="middle">lower bound on Fidelity</text>
<rect x="357.6" y="421.5" width="503.80" height="143.40" rx="5.5" ry="5.5" fill="#fff" fill-opacity="0.8" stroke="#ccc" stroke-opacity="0.8" stroke-width="2.5"/>
<line x1="369.5" y1="445.9" x2="430.8" y2="445.9" stroke="#999933" stroke-width="3.50" stroke-dasharray="12.37 4.92"/>
<text x="455.2" y="456.80" font-size="30.48">multipartite (A)</text>
<line x1="369.5" y1="491.0" x2="430.8" y2="491.0" stroke="#AA4499" stroke-width="3.50" stroke-dasharray="3.56 5.08"/>
<text x="455.2" y="501.20" font-size="30.48">bipartite (B,C)</text>
<line x1="369.5" y1="535.6" x2="430.8" y2="535.6" stroke="#6BAED1" stroke-width="3.50" stroke-dasharray="21.18 4.92 3.56 4.92"/>
<text x="455.2" y="545.90" font-size="30.48">multipartite (A) optimized</text>
</svg></body></html>
